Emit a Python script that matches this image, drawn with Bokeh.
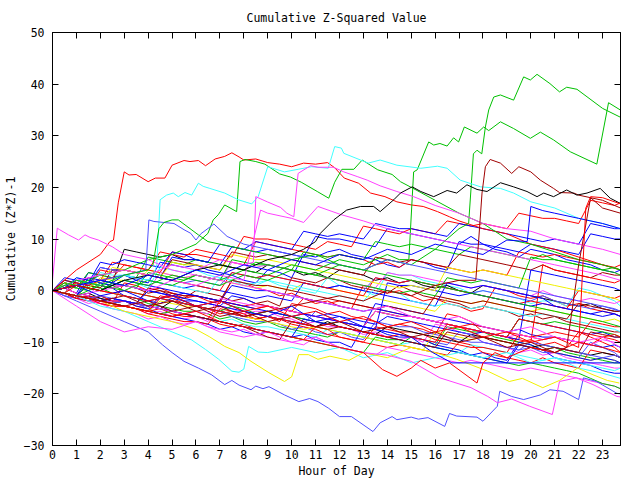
from bokeh.plotting import figure
from bokeh.models import LinearAxis, FixedTicker, Range1d
from bokeh.embed import file_html
from bokeh.resources import INLINE

TITLE = "Cumulative Z-Squared Value"
X_LABEL = "Hour of Day"
Y_LABEL = "Cumulative (Z*Z)-1"
X_TICKS = list(range(0, 24))
Y_TICKS = [-30, -20, -10, 0, 10, 20, 30, 40, 50]

# half-hourly sample times shared by the bulk of the series (0, 0.5, ... 23.5, 23.75)
HALF_HOURS = [h / 2 for h in range(48)] + [23.75]

# ---- bulk series (value at each half hour) ----
MASS_COLORS = [
    "red", "blue", "red", "green", "magenta", "cyan", "darkred", "blue", "black", "yellow",
    "lightblue", "red", "blue", "green", "red", "magenta", "blue", "cyan", "darkred", "blue",
    "red", "green", "lightblue", "yellow", "red", "blue", "magenta", "red", "black", "blue",
    "green", "cyan", "darkred", "red", "blue", "magenta", "lightblue", "red", "blue", "darkred",
    "yellow", "green", "blue", "red",
]
MASS_VALUES = [
    [0, -0.5, -1.5, -1, -2, -2.5, 1.5, 1, 0, 0.5, -0.5, -1.5, -1, -2, -2.5, 2, 1.5, 0.5,
     0, -1, -0.5, -1.5, -2.5, -2, -3, -3.5, 1, 0.5, -0.5, 0, -1, -2, -1.5, -2.5, -3, -4,
     -3.5, 0.5, 0, -1, -1.5, -1, -2, -3, -2.5, -3.5, -4, -4.5, -5],
    [0, 0.5, -0.5, 3.5, 3, 2.5, 3, 2, 1.5, 5.5, 5, 4.5, 5, 4, 3.5, 3, 2, 1.5,
     4, 3.5, 2.5, 7, 6.5, 7.5, 8, 7, 6.5, 6, 5, 4.5, 6, 5.5, 4.5, 4, 9.5, 9,
     9, 8, 7.5, 6.5, 8, 7.5, 7, 6, 5.5, 5, 4, 3.5, 4],
    [0, 0.5, -0.5, -1, -1.5, -2.5, -2, -3, -3.5, -1, -1.5, -2.5, -3, -3.5, -4.5, -4, -5, -5.5,
     -5, -6, -2.5, -3, -3.5, -4.5, -4, -5, -5.5, -6, -7, -6.5, -7, -7.5, -8.5, -4.5, -5, -6,
     -8, -8.5, -9, -10, -9.5, -10.5, -10, -11, -8, -9, -10, -11, -12],
    [0, -0.5, -1, 1, 0.5, -0.5, -1, -1.5, -2.5, -3, -3.5, -4, -4, -4.5, -5.5, -5, -6, -6.5,
     -6, -7, -7.5, -8, -8.5, -9, -8, -8.5, -9, -9.5, -10, -10.5, -9, -9.5, -10.5, -7, -7.5, -8,
     -8, -9, -9.5, -10, -10.5, -11.5, -11, -12, -12.5, -13, -13.5, -14, -14],
    [0, -1, -1.5, -2.5, -2, -3, -3, -3.5, -4.5, -4, -5, -5.5, -5, -6, -3, -3.5, -4.5, -4,
     -4, -5, -5.5, -6.5, -6, -7, -7, -7.5, -8.5, -8, -9, -9.5, -9, -10, -6.5, -7, -8, -8.5,
     -10, -10.5, -11, -12, -11.5, -12.5, -12, -13, -13.5, -14, -14.5, -15, -15],
    [0, 0.5, 2.5, 2, 1.5, 1, 2, 1.5, 0.5, 4.5, 4, 3.5, 4, 3, 2.5, 2, 1, 1.5,
     2, 1, 0.5, 0, -0.5, 2.5, 1, 0.5, 0, -1, 3.5, 3, 3, 2, 1.5, 1, 0.5, -0.5,
     0, -0.5, -1, -1.5, -2.5, -2, -2, -3, 0.5, 0, -1, -2, -3],
    [0, -0.5, 2, 1.5, 1, 0.5, 1, 0.5, -0.5, 0, -1, -1.5, 0, -0.5, -1, -2, -1.5, -2.5,
     -2, -3, 2.5, 2, 1.5, 2.5, 2, 1, 0.5, 0, -0.5, 1, 0, -1, -1.5, -2, -2.5, -3.5,
     -3, -3.5, -4, -5, -4.5, -5.5, -5, -6, -6.5, -7, -7.5, -8, -8],
    [0, -0.5, -1.5, -1, -2, -2.5, -2, -3, -3.5, -4.5, -5, -5.5, -6, -6.5, -7.5, -7, -8, -8.5,
     -8, -8.5, -9, -8.5, -9.5, -10, -10, -11, -7, -7.5, -8.5, -9, -9, -9.5, -10.5, -11, -11.5, -12.5,
     -12, -13, -13.5, -10, -10.5, -11.5, -13, -13.5, -14, -14.5, -15.5, -16, -16],
    [0, 0.5, 1, 0.5, 2, 1.5, 8, 7.5, 7, 6.5, 7, 6, 6, 5.5, 5, 4.5, 4, 3.5,
     5, 4.5, 4, 3, 3.5, 2.5, 4, 3.5, 3, 2, 2.5, 1.5, 2, 1, 0.5, 1, 0, -0.5,
     1, 0.5, 0, -0.5, -1, -1.5, -2, -2.5, -3, -2.5, -3.5, -4, -4],
    [0, 1.5, 1, 0.5, 2.5, 2, 2, 1.5, 4, 3.5, 3, 2.5, 3, 2.5, 2, 1.5, 1, 0.5,
     1, 0.5, 0, 1.5, 1, 0.5, 0, -0.5, -1, -1.5, -2, -2.5, -3, -3.5, -4, -1.5, -2, -2.5,
     -2, -2.5, -3, -3.5, -4, -3.5, -4, -4.5, -5, -5.5, -6, -5.5, -6],
    [0, -1, -1.5, -2, -1.5, -2.5, -2, -2.5, -3.5, -3, -4, -2, -3, -3.5, -4, -5, -5.5, -6,
     -6, -6.5, -7.5, -7, -8, -8.5, -8, -9, -9.5, -6, -6.5, -7, -7, -8, -8.5, -9, -9.5, -10,
     -10, -10.5, -11, -11.5, -11, -12, -12, -12.5, -13, -10, -11, -12, -13],
    [0, 0.5, 1, 2.5, 2, 5.5, 5, 4.5, 4, 3.5, 7.5, 7, 7, 6.5, 6, 5.5, 5, 9.5,
     9, 8.5, 8, 7.5, 7, 6.5, 7, 6.5, 6, 5, 5.5, 4.5, 6, 5.5, 5, 4.5, 4, 3.5,
     4, 3.5, 3, 7.5, 7, 6.5, 7, 6.5, 6, 5.5, 5, 4.5, 5],
    [0, 2, 1.5, 1, 4.5, 4, 4, 3.5, 3, 2.5, 6.5, 6, 6, 5.5, 5, 8.5, 8, 7.5,
     8, 7.5, 7, 6.5, 10.5, 10, 10, 9.5, 9, 8.5, 12, 11.5, 11, 10.5, 10, 9.5, 9, 10.5,
     9, 8.5, 8, 7.5, 9, 8.5, 8, 7.5, 7, 11, 10.5, 10, 10],
    [0, 1, 0.5, 3.5, 3, 2.5, 3, 2.5, 6.5, 6, 5.5, 5, 6, 5.5, 5, 4.5, 4, 5.5,
     5, 4.5, 4, 7.5, 7, 6.5, 7, 6.5, 6, 9.5, 9, 8.5, 9, 8.5, 8, 7.5, 7, 8.5,
     8, 7.5, 7, 6.5, 6, 7, 6, 5.5, 5, 4.5, 4, 4.5, 4],
    [0, -0.5, -1.5, -1, -2, -2.5, -3, -3.5, -4, -3.5, -4.5, -5, -5, -5.5, -6.5, -7, -6.5, -7.5,
     -8, -8.5, -9, -9.5, -7, -7.5, -9, -9.5, -10, -10.5, -11, -10.5, -11, -11.5, -12, -12.5, -10, -10.5,
     -12, -12.5, -13, -13.5, -14, -13, -14, -14.5, -15, -11.5, -12, -12.5, -13],
    [0, 0.5, -0.5, -1, 1.5, 1, 1, 0.5, 0, 3.5, 3, 2.5, 3, 2.5, 2, 5.5, 5, 4.5,
     5, 4.5, 4, 3.5, 3, 2.5, 2, 1.5, 1, 0.5, 3.5, 3, 3, 2.5, 2, 1.5, 1, 0.5,
     1, 0.5, 0, -0.5, -1, 0, -1, -1.5, -2, -1.5, -2, -2.5, -2],
    [0, -0.5, -1, 1.5, 1, 0.5, -1, -1.5, -2, -2.5, -1.5, -2, -2, -2.5, -3, -3.5, -4, -4.5,
     -4, -4.5, -5, -5.5, -6, -6.5, -6, -6.5, -7, -2.5, -3, -3.5, -4, -4.5, -5, -5.5, -6, -6.5,
     -7, -7.5, -8, -7.5, -8.5, -9, -9, -9.5, -10, -10.5, -11, -10.5, -11],
    [0, -0.5, -1, -1.5, -1, -2, -2, -2.5, -3, -3.5, -4, -4.5, -5, -5.5, -6, -5.5, -6.5, -7,
     -7, -7.5, -8, -8.5, -9, -7.5, -8, -8.5, -9, -9.5, -10, -10.5, -10, -10.5, -11, -11.5, -12, -10.5,
     -11, -11.5, -12, -12.5, -13, -13.5, -13, -13.5, -14, -14.5, -15, -15.5, -15],
    [0, 2, 1.5, 1, 0.5, 4, 4, 3.5, 3, 2.5, 6, 5.5, 5, 4.5, 4, 7.5, 7, 6.5,
     7, 6.5, 6, 5.5, 5, 4.5, 4, 3.5, 3, 6.5, 6, 5.5, 6, 5.5, 5, 4.5, 7, 6.5,
     6, 5.5, 5, 4.5, 4, 5, 4, 3.5, 3, 2.5, 3.5, 3, 3],
    [0, 1.5, 1, 0.5, 0, 1.5, 1, 0.5, 0, -0.5, -1, -1.5, -2, -2.5, -3, -1, -1.5, -2.5,
     -3, -3.5, -4, -4.5, -5, -4.5, -5, -5.5, -6, -6.5, -5, -5.5, -6, -6.5, -7, -7.5, -8, -8.5,
     -8, -8.5, -9, -5.5, -6, -6.5, -7, -7.5, -8, -8.5, -8, -9, -9],
    [0, -0.5, -1.5, -2, -2.5, -3, -3, -3.5, -4.5, -5, -5.5, -6, -6, -6.5, -3.5, -4, -4.5, -5.5,
     -5, -5.5, -6.5, -7, -7.5, -8.5, -9, -9.5, -10, -7, -7.5, -8, -8, -8.5, -9.5, -10, -10.5, -11,
     -11, -11.5, -12, -8.5, -9, -9.5, -9, -9.5, -10, -10.5, -9, -9.5, -10],
    [0, 1, 0.5, 0, 1.5, 1, 0, -0.5, -1, -1.5, -2, -2.5, -3, -3.5, -4, -3, -3.5, -4.5,
     -4, -4.5, -5, -5.5, -6, -6.5, -6, -6.5, -7, -4, -4.5, -5, -5, -5.5, -6, -6.5, -7, -7.5,
     -8, -8.5, -9, -5.5, -6, -6.5, -6, -6.5, -7, -7.5, -8, -8.5, -9],
    [0, 0.5, 2, 1.5, 4.5, 4, 4, 3.5, 3, 2.5, 2, 1.5, 2, 1.5, 1, 3.5, 3, 2.5,
     3, 2.5, 2, 1.5, 1, 0.5, 1, 0.5, 0, 2.5, 2, 1.5, 2, 1.5, 1, 0.5, 0, -0.5,
     0, -0.5, -1, -1.5, -2, -1, -2, -2.5, -3, -3.5, -3, -3.5, -4],
    [0, -0.5, -1, -1.5, -2, -2.5, -3, -3.5, -4, -2, -2.5, -3, -3, -3.5, -4, -4.5, -5, -5.5,
     -6, -6.5, -7, -7.5, -7, -7.5, -8, -8.5, -9, -9.5, -10, -10.5, -11, -11.5, -8, -8.5, -9, -9.5,
     -9, -9.5, -10, -10.5, -11, -11.5, -12, -12.5, -13, -13.5, -13, -13.5, -14],
    [0, -0.5, 1, 0.5, 0, -0.5, 0, -0.5, -1, -1.5, -0.5, -1, -1, -1.5, -2, -2.5, -3, -2.5,
     -3, -3.5, -4, -1.5, -2, -2.5, -2, -2.5, -3, -3.5, -4, -4.5, -5, -5.5, -6, -6.5, -7, -7.5,
     -8, -8.5, -9, -9.5, -10, 5, 4, 3.5, 3, 2.5, 2, 1.5, 2],
    [0, -0.5, -1, 2.5, 2, 1.5, 3, 2.5, 2, 1.5, 1, 0.5, 1, 0.5, 0, -0.5, -1, -1.5,
     -1, -1.5, -2, 1.5, 1, 0.5, 1, 0.5, 0, -0.5, -1, -1.5, -2, -2.5, -3, 1.5, 1, 0.5,
     1, 0.5, 0, -0.5, -1, -1.5, -3, -3.5, -4, -4.5, -4, -4.5, -5],
    [0, -0.5, -1, -2, -2.5, -3.5, -4, -4.5, -5.5, -5, -6, -6.5, -6, -7, -7.5, -8, -7.5, -8.5,
     -9, -9.5, -10, -10.5, -9, -10, -11, -11.5, -12, -12.5, -11, -11.5, -12, -12.5, -13, -13.5, -14, -13.5,
     -14, -14.5, -15, -15.5, -15, -15.5, -16, -16.5, -17, -17.5, -18, -18.5, -19],
    [0, 1.5, 1, 0.5, 4, 3.5, 4, 3.5, 3, 2.5, 2, 1.5, 1, 0.5, 0, 3.5, 3, 2.5,
     3, 2.5, 2, 1.5, 1, 0.5, 0, -0.5, -1, 2.5, 2, 1.5, 2, 1.5, 1, 0.5, 0, -0.5,
     -1, -1.5, -2, -2.5, -2, -2.5, -3, -3.5, 0, -0.5, -1, -1.5, -1],
    [0, -0.5, -1, -0.5, -1.5, -2, -2, -2.5, -3, -3.5, -2, -2.5, -3, -3.5, -4, -4.5, -5, -4.5,
     -5, -5.5, -6, -6.5, -7, -6, -7, -7.5, -8, -8.5, -7, -7.5, -8, -8.5, -9, -9.5, -10, -8.5,
     -9, -9.5, -10, -10.5, -11, -10.5, -11, -11.5, -12, -12.5, -12, -12.5, -13],
    [0, 0.5, 2.5, 2, 1.5, 1, 2, 1.5, 1, 0.5, 0, -0.5, -1, -1.5, -2, 1, 0.5, 0,
     0, -0.5, -1, -1.5, -2, -2.5, -3, -3.5, -4, -3.5, -4, -4.5, -5, -5.5, -6, -6.5, -7, -7.5,
     -8, -8.5, -9, -9.5, 4, 3.5, 3, 2.5, 2, 1.5, 1, 0.5, 0],
    [0, -0.5, -1, -1.5, -2, -2.5, -3, -3.5, -4, -4.5, -4, -4.5, -5, -5.5, -6, -6.5, -7, -7.5,
     -8, -8.5, -9, -9.5, -10, -10.5, -11, -11.5, -12, -9, -9.5, -9.5, -10, -10.5, -11, -11.5, -12, -12.5,
     -13, -13.5, -14, -14.5, -14, -14.5, -15, -15.5, -16, -17, -18, -18.5, -19],
    [0, 0.5, 1, 0.5, 3.5, 3, 3, 2.5, 2, 1.5, 1, 0.5, 0, -0.5, 2.5, 2, 1.5, 1,
     2, 1.5, 1, 0.5, 0, -0.5, -1, -1.5, -2, 0.5, 0, -0.5, -2, -2.5, -3, -2.5, -3, -3.5,
     -3, -3.5, -4, -4.5, -5, -4.5, -5, -5.5, -6, -6.5, -7, -7.5, -8],
    [0, -0.5, -1, -1.5, -1, -2, -2, -2.5, 0.5, 0, -0.5, -1, -1, -1.5, -2, 2, 1.5, 1,
     1, 0.5, 0, -0.5, -1, -1.5, -2, -2.5, -3, -3.5, -3, -3.5, -4, -4.5, -1, -1.5, -2, -2.5,
     -2, -2.5, -3, -3.5, -4, -4.5, -5, -5.5, -2.5, -3, -3.5, -4, -4],
    [0, -0.5, -1, -1.5, -1, -2, -2, -2.5, -3, -3.5, -4, -4.5, -5, -5.5, -2, -2.5, -3, -3.5,
     -3, -3.5, -4, -4.5, -5, -5.5, -6, -6.5, -7, -4, -4.5, -5, -5, -5.5, -6, -6.5, -7, -6.5,
     -7, -7.5, -8, -8.5, -9, -8.5, -8, -8.5, -9, -6, -6.5, -7, -7],
    [0, -0.5, -1, -1.5, -2, -1.5, -2, -2.5, -3, -3.5, -4, -4.5, -5, -5.5, -6, -6.5, -7, -7.5,
     -8, -8.5, -9, -5.5, -6, -6.5, -7, -7.5, -8, -8.5, -9, -9.5, -10, -10.5, -11, -11.5, -12, -12.5,
     -13, -13.5, -14, -10.5, -11, -11.5, -12, -12.5, -13, -13.5, -13, -13.5, -14],
    [0, -0.5, -1, -1.5, -2.5, -2, -2, -2.5, -3, -3.5, -4, -4.5, -4, -4.5, -1.5, -2, -2.5, -3,
     -3, -3.5, -4, -4.5, -5, -5.5, -6, -6.5, -7, -4, -4.5, -5, -5, -5.5, -6, -6.5, -7, -7.5,
     -8, -8.5, -9, -8.5, -9, -9.5, -9, -9.5, -10, -10.5, -9.5, -10, -10],
    [0, -0.5, -1, -1.5, -1, -1.5, -2, -2.5, -3, -1.5, -2, -2.5, -3, -3.5, -4, -4.5, -5, -4.5,
     -5, -5.5, -6, -6.5, -4, -5, -6, -6.5, -7, -7.5, -8, -8.5, -9, -9.5, -10, -10.5, -8, -8.5,
     -10, -10.5, -11, -11.5, -10, -10.5, -11, -11.5, -12, -12.5, -13, -12.5, -13],
    [0, 0.5, 1.5, 1, 2, 2.5, 5, 4.5, 4, 7.5, 7, 6.5, 8, 7.5, 7, 6.5, 10.5, 10,
     10, 9.5, 9, 8.5, 8, 9.5, 9, 8.5, 12.5, 12, 11.5, 11, 12, 11.5, 11, 13.5, 13, 12.5,
     13, 12.5, 12, 15, 14.5, 14, 14, 13.5, 13, 17.5, 17, 16.5, 17],
    [0, -0.5, -1, -1.5, -2, -1.5, -2, -2.5, 0, -0.5, -1, -0.5, -1, -1.5, -2, -2.5, -3, -3.5,
     -4, -4.5, -5, -4.5, -5, -5.5, -6, -6.5, -7, -7.5, 1.5, 1, 1, 0.5, 0, -0.5, -1, -0.5,
     -1, -1.5, -2, -2.5, -3, -2.5, -3, -3.5, -4, -4.5, -5, -4.5, -5],
    [0, -0.5, -1, -1.5, -2, -2.5, -3, -3.5, -4, -4.5, -5, -4.5, -5, -5.5, -6, -6.5, -7, -8,
     -9, -9.5, -6, -6.5, -7, -7.5, -7, -7.5, -8, -8.5, -9, -9.5, -10, -10.5, -11, -8, -8.5, -9,
     -9, -9.5, -10, -10.5, -11, -11.5, -11, -11.5, -12, -8, -8.5, -9, -9],
    [0, 1.5, 1, 0.5, 2, 4.5, 4, 3.5, 3, 2.5, 5.5, 5, 5, 4.5, 4, 7, 6.5, 6,
     6, 5.5, 5, 4.5, 4, 3.5, 3, 2.5, 2, 1.5, 1, 0.5, 1, 0.5, 0, 4.5, 4, 3.5,
     4, 3.5, 3, 2.5, 2, 1.5, 1, 0.5, 0, -0.5, -1, -1.5, -2],
    [0, 1.5, 1, 0.5, 0, 1.5, 1, 0.5, 3.5, 3, 2.5, 2, 3, 2.5, 2, 6, 5.5, 5,
     5, 4.5, 4, 3.5, 3, 2.5, 2, 1.5, 1, 0.5, 0, -0.5, 0, -0.5, -1, 2.5, 2, 1.5,
     2, 1.5, 1, 0.5, 6.5, 6, 6, 5.5, 5, 4.5, 4, 3.5, 3],
    [0, 2.5, 2, 1.5, 5.5, 5, 6, 5.5, 5, 4.5, 7.5, 7, 6, 5.5, 9, 8.5, 8, 9.5,
     9, 8.5, 8, 11.5, 11, 10.5, 11, 10.5, 10, 13, 12.5, 12, 12, 11.5, 11, 10.5, 13, 12.5,
     12, 11.5, 11, 10.5, 10, 9.5, 10, 9.5, 9, 13, 12.5, 12, 12],
    [0, -0.5, -1, -1.5, -2.5, -3, -3, -3.5, -4, -1.5, -2, -2.5, -3, -3.5, -4, -4.5, -5, -4.5,
     -5, -5.5, -6, -6.5, -7, -6.5, -7, -7.5, -8, -8.5, -9, -8.5, -9, -9.5, -10, -6.5, -7, -7.5,
     -8, -8.5, -9, -5.5, -6, -6.5, -7, -7.5, -8, -8.5, -9, -8.5, -9],
]

# ---- distinct series that stand out from the bundle ----
RED_TOP_X = [0, 1, 2, 2.4, 2.55, 2.75, 3.0, 3.2, 3.5, 4.0, 4.3, 4.7, 5.0, 5.5, 5.75, 6.1, 6.4, 6.8, 7.2, 7.5,
             7.8, 8.0, 8.5, 9, 9.5, 10, 10.5, 11, 11.5, 11.8, 12.08, 12.2, 12.8, 13.3, 13.9, 14.4, 15, 15.5,
             16.1, 16.6, 17, 18, 19, 20, 21, 22, 23, 23.75]
RED_TOP_Y = [0, 4, 7, 9.5, 9.8, 17, 23, 22.4, 22.5, 21.1, 21.8, 21.8, 24.3, 25.2, 25, 25.2, 24.2, 25.5, 26, 26.7,
             25.9, 25.3, 25.5, 24.8, 24.5, 24, 24.7, 24.5, 24.8, 23.8, 22.4, 21.8, 20.8, 18.9, 18.2, 17.2, 16.6, 16.3,
             15.3, 14.3, 13.5, 12, 11, 9, 8, 6.5, 5, 4]

GREEN_MID_X = [0, 1, 2, 3, 4, 5, 6, 6.5, 6.72, 6.93, 7.2, 7.7, 7.84, 8.05, 8.5, 8.88, 9.5, 9.95, 10.4, 11.07,
               11.55, 11.8, 12.1, 12.6, 12.95, 13.6, 14.2, 14.55, 15, 16, 17, 18, 19, 20, 21, 22, 23, 23.75]
GREEN_MID_Y = [0, 1, 3, 4, 6, 7, 9, 11.1, 13.7, 14.7, 16.6, 15.3, 25, 25.4, 25, 24.5, 22.6, 22, 21, 19.2,
               17.9, 21, 23.5, 23.5, 25.3, 23.4, 22.5, 21.1, 20, 17.5, 15, 13, 10, 9, 7.5, 6, 5, 4]

GREEN_LADDER_X = [0, 1, 2, 3, 4, 5, 6, 7, 8, 9, 10, 11, 12, 13, 14, 14.5, 14.9, 15.1, 15.25, 15.73, 15.94, 16.2,
                  16.5, 16.77, 16.98, 17.22, 17.75, 18.03, 18.24, 18.73, 19.28, 19.98, 20.4, 20.95, 21.65, 22.76,
                  23.25, 23.74]
GREEN_LADDER_Y = [0, -1, 1, 0, 2, 1, 3, 2, 4, 3, 5, 4, 6, 5, 7, 6, 6, 23, 23.4, 28.8, 28.2, 28.5,
                  28, 29.6, 28.8, 31.7, 30.5, 31.7, 31, 32.7, 31.4, 29.5, 30.7, 29.2, 26.9, 24.5,
                  36.4, 35]

GREEN_TOP_X = [0, 1, 2, 3, 4, 5, 6, 7, 8, 9, 10, 11, 12, 13, 14, 15, 16, 17, 17.4, 17.6, 17.75, 17.95, 18.1,
               18.24, 18.45, 18.73, 19.28, 19.7, 19.98, 20.26, 20.8, 21.2, 21.5, 21.93, 23.0, 23.74]
GREEN_TOP_Y = [0, 1, 0, 2, 1, 3, 2, 1, 3, 2, 4, 3, 5, 4, 6, 5, 8, 12, 13, 26.5, 27.2, 26.5, 31.7,
               35, 37.5, 37.9, 36.9, 41.4, 40.8, 41.9, 40.1, 38.5, 39.4, 39, 35.3, 33.6]

CYAN_TOP_X = [0, 1, 2, 3, 4, 4.3, 4.36, 4.5, 4.77, 5.05, 5.26, 5.54, 5.82, 6.1, 6.3, 6.58, 7.2, 7.77, 8.33, 8.6,
              9.0, 9.7, 10.27, 10.83, 11.53, 11.8, 12.08, 12.18, 12.88, 13.2, 13.7, 14.4, 15.4, 16.1, 16.5,
              17.05, 17.9, 18.73, 19.28, 20, 21, 22, 23, 23.75]
CYAN_TOP_Y = [0, 2, 1, 3, 2, 4, 5, 17.6, 18.5, 18.9, 18.2, 19, 18.5, 20.8, 20.2, 19.8, 18.9, 17.6, 16.8, 18.2,
              24, 23, 23.5, 24, 23.7, 27.9, 27.6, 26.6, 25.3, 24.7, 25.3, 24.3, 23.7, 24.1, 23.7,
              21.4, 20.1, 19.8, 18.9, 17.2, 16, 14, 13, 12]

MAGENTA_HIGH_X = [0, 1, 2, 3, 4, 5, 6, 7, 8, 8.4, 8.5, 8.98, 9.54, 9.8, 10.09, 10.27, 10.79, 11.1, 11.75, 12.18,
                  12.74, 13.16, 13.7, 14.4, 15.1, 16, 17, 18, 19, 20, 21, 22, 23, 23.75]
MAGENTA_HIGH_Y = [0, 2, 3, 4, 3, 5, 4, 6, 5, 5.5, 18.2, 17.2, 16.1, 15, 14.3, 22.7, 24.2, 23.9, 23.9, 23,
                  22.1, 21.4, 20.3, 19.2, 18.2, 16.5, 15, 13, 12, 11.5, 10, 9, 8, 7]

MAGENTA_MID_X = [0, 1, 2, 3, 4, 5, 6, 7, 8, 8.7, 9, 10, 10.5, 11.1, 11.65, 12.08, 13, 14,
                 15, 16, 17, 18, 19, 20, 21, 22, 23, 23.75]
MAGENTA_MID_Y = [0, -1, 0, 1, 0, 2, 1, 3, 2, 15.6, 15, 14, 13.2, 16.3, 15.4, 14.7, 13.5, 12,
                 11, 10, 9, 8, 7, 6, 5, 4, 3, 2]

MAGENTA_EARLY_X = [0, 0.2, 0.3, 0.67, 1.09, 1.36, 1.57, 1.92, 2.5, 3, 4, 5, 6, 7, 8, 9, 10, 11, 12, 13, 14,
                   15, 16, 17, 18, 19, 20, 21, 22, 23, 23.75]
MAGENTA_EARLY_Y = [2, 12.1, 11.8, 10.8, 9.8, 10.8, 10.3, 9.8, 8.5, 7, 6, 4, 3, 2, 1, 0, -1, -2, -3, -4, -3,
                   -5, -6, -5, -7, -8, -7, -9, -10, -9, -11]

LIGHTBLUE_HIGH_X = [0, 1, 2, 3, 3.9, 4.03, 4.24, 4.66, 5.08, 5.5, 5.78, 6.0, 6.2, 6.75, 7.3, 8, 9, 10, 11, 12,
                    13, 14, 15, 16, 17, 18, 19, 20, 21, 22, 23, 23.75]
LIGHTBLUE_HIGH_Y = [0, 1, 2, 3, 4, 13.7, 13.4, 13.2, 13, 11.8, 11.1, 9.8, 11, 12.9, 10.5, 9, 8, 7, 6, 5,
                    4, 6, 5, 4, 3, 2, 1, 0, -1, -2, -3, -4]

GREEN_EARLY_X = [0, 1, 2, 3, 4, 4.2, 4.45, 4.66, 5.0, 5.26, 6.1, 6.5, 7, 8, 9, 10, 11, 12, 13, 14, 15, 16,
                 17, 18, 19, 20, 21, 22, 23, 23.75]
GREEN_EARLY_Y = [0, 2, 1, 3, 4, 5, 12, 13.2, 13.7, 13.7, 10.8, 9.5, 9, 8, 7, 6, 7, 5, 4, 3, 2, 1,
                 0, -1, -2, -3, -4, -5, -6, -7]

DARKRED_HIGH_X = [0, 1, 2, 3, 4, 5, 6, 7, 8, 9, 10, 11, 12, 13, 14, 15, 16, 17, 17.7, 17.96, 18.1, 18.3, 18.73,
                  19.2, 19.5, 20, 20.4, 20.95, 21.2, 21.8, 22, 23, 23.75]
DARKRED_HIGH_Y = [0, -1, -2, -1, -3, -2, -4, -3, -5, -4, -3, -2, -1, -2, 0, -1, 1, 2, 2, 18.9, 24, 25.4, 24.7,
                  22.7, 24, 23, 21.4, 19.8, 19, 18.9, 18.5, 17.5, 16]

BLACK_HIGH_X = [0, 1, 2, 3, 4, 5, 6, 7, 8, 9, 10, 10.5, 11.0, 11.2, 11.76, 12.3, 12.88, 13.43, 13.7, 14.27,
                14.55, 15.04, 15.4, 15.94, 16.5, 16.9, 17.33, 17.75, 18.17, 18.73, 19.28, 19.84, 20.26, 20.54,
                20.95, 21.5, 21.93, 22.35, 22.9, 23.32, 23.74]
BLACK_HIGH_Y = [0, 1, 0, 2, 3, 2, 4, 5, 4, 6, 7, 8, 9.5, 11.1, 13.7, 15.6, 16.3, 16.3, 15.3, 17.6,
                18.9, 20.1, 19.2, 18.2, 19.4, 18.9, 20.5, 19.6, 19.2, 20.9, 20.1, 19.2, 18.2, 18.9,
                18.2, 19.5, 18.5, 18.9, 19.8, 17.9, 16.9]

LIGHTBLUE_LOW_X = [0, 1, 2, 3, 4, 4.6, 5.0, 5.5, 6.1, 6.65, 7.2, 7.5, 7.8, 8.3, 8.5, 8.8, 9.05, 9.7, 10.3, 10.75,
                   11.1, 11.55, 12.0, 12.5, 13.4, 13.7, 14.2, 14.4, 15, 15.3, 15.7, 16.4, 16.6, 16.9, 17.75,
                   18, 18.6, 18.7, 19.2, 19.7, 20.4, 20.8, 21.35, 22, 22.2, 22.75, 23.6, 23.75]
LIGHTBLUE_LOW_Y = [0, -2, -4, -6, -8, -10.5, -12, -13.7, -15, -16.3, -18.2, -17.4, -18.3, -19.2, -18.5, -19,
                   -18.6, -20.2, -21.5, -20.9, -21.5, -22.8, -24.4, -24.4, -27.3, -25.6, -24.4, -25, -24.5,
                   -24.9, -24.6, -26.3, -23.8, -24.3, -24.5, -25.3, -22.4, -19.5, -20.5, -21.1, -20.2, -19.2,
                   -19.5, -21.1, -16.9, -17.6, -19.9, -20]

CYAN_LOW_X = [0, 1, 2, 3, 4, 5, 5.8, 6.4, 6.95, 7.5, 7.8, 8.0, 8.2, 8.6, 9, 10, 11, 12, 13, 14, 15, 16, 17, 18,
              19, 20, 21, 22, 23, 23.75]
CYAN_LOW_Y = [0, -1, -3, -4, -6, -8, -9.5, -11.4, -13.3, -15.6, -15.8, -15.2, -10.8, -11.9, -12, -11, -12, -11,
              -13, -12, -14, -13, -12, -13, -12, -14, -13, -15, -16, -17]

YELLOW_LOW_X = [0, 1, 2, 3, 4, 5, 6, 6.55, 7.2, 7.8, 8.3, 9.05, 9.7, 10, 10.3, 10.7, 11.1, 11.6, 12.4, 13, 14,
                15, 16, 16.9, 18.2, 19.1, 19.65, 20.5, 21.2, 21.95, 22.6, 23.2, 23.7]
YELLOW_LOW_Y = [0, -1, -2, -4, -5, -6, -7.5, -8.9, -10.8, -12, -13.7, -15.9, -17.6, -16.7, -12.4, -12.4, -13.3,
                -12.7, -13.5, -12, -13, -11, -12, -13.3, -15.6, -17.6, -17, -18.8, -17.4, -15, -16.3, -17.4,
                -17.9]

MAGENTA_LOW_X = [0, 1, 2, 3, 4, 5, 6, 7, 8, 9, 10, 11, 12, 13, 14, 15, 16.2, 17.5, 18.2, 18.6, 19.2, 19.95,
                 20.9, 21.2, 21.9, 22.6, 23.6, 23.75]
MAGENTA_LOW_Y = [0, -3, -6, -8, -7, -7.5, -6, -8, -9, -8, -10, -9, -11, -12, -12.5, -13.7, -16.9, -18.8, -20.5,
                 -21.7, -21, -22.4, -24, -17.6, -16.9, -18.2, -20.5, -20.6]

BLUE_FLAT_X = [0, 1, 2, 3, 4, 5, 6, 7, 8, 9, 10, 11, 12, 13, 14, 15, 15.9, 16.7, 23.75]
BLUE_FLAT_Y = [0, 1, -1, 0, -2, -1, -3, -2, -4, -5, -3, -6, -5, -7, -8, -9, -12, -14, -14]

RED_LOW_X = [0, 1, 2, 3, 4, 5, 6, 7, 8, 9, 10, 11, 12, 13, 13.8, 14.4, 15, 15.4, 16, 16.6, 17.75, 18.0, 18.5,
             19, 20, 21, 22, 23, 23.75]
RED_LOW_Y = [0, -1, -2, -3, -4, -5, -4, -6, -7, -8, -9, -10, -11, -12, -15.3, -16.6, -15, -13.5, -15, -14,
             -17.9, -14, -12, -13, -11, -12, -10, -11, -12]

BLUE_JUMP_X = [0, 1, 2, 3, 4, 5, 6, 7, 8, 9, 10, 11, 12, 13, 14, 15, 16, 17, 18, 19, 19.85, 20, 20.5, 21, 22,
               23, 23.75]
BLUE_JUMP_Y = [0, 1, 2, 1, 3, 2, 4, 3, 5, 4, 6, 5, 7, 6, 8, 7, 9, 8, 7, 9.8, 9.5, 16.3, 15.5, 15, 14, 13, 12]

DARKRED_LATE_X = [0, 1, 2, 3, 4, 5, 6, 7, 8, 9, 10, 11, 12, 13, 14, 15, 16, 17, 18, 19, 20, 21, 21.5, 22,
                  22.5, 23, 23.75]
DARKRED_LATE_Y = [0, -1, -2, -3, -2, -4, -3, -5, -4, -6, -5, -7, -6, -8, -7, -9, -8, -10, -9, -11, -10, -12,
                  -11, 5, 18, 16, 15]

RED_LATE_X = [0, 1, 2, 3, 4, 5, 6, 7, 8, 9, 10, 11, 12, 13, 14, 15, 16, 17, 18, 19, 20, 21, 22, 22.3, 22.5,
              23, 23.75]
RED_LATE_Y = [0, 1, 0, -1, -2, -1, -3, -2, -4, -3, -5, -4, -6, -5, -7, -6, -8, -7, -9, -8, -10, -9, -11, 16,
              18.2, 18, 16.8]

SPECIAL = [
    (RED_TOP_X, RED_TOP_Y, "red"),
    (GREEN_MID_X, GREEN_MID_Y, "green"),
    (GREEN_LADDER_X, GREEN_LADDER_Y, "green"),
    (GREEN_TOP_X, GREEN_TOP_Y, "green"),
    (CYAN_TOP_X, CYAN_TOP_Y, "cyan"),
    (MAGENTA_HIGH_X, MAGENTA_HIGH_Y, "magenta"),
    (MAGENTA_MID_X, MAGENTA_MID_Y, "magenta"),
    (MAGENTA_EARLY_X, MAGENTA_EARLY_Y, "magenta"),
    (LIGHTBLUE_HIGH_X, LIGHTBLUE_HIGH_Y, "lightblue"),
    (GREEN_EARLY_X, GREEN_EARLY_Y, "green"),
    (DARKRED_HIGH_X, DARKRED_HIGH_Y, "darkred"),
    (BLACK_HIGH_X, BLACK_HIGH_Y, "black"),
    (LIGHTBLUE_LOW_X, LIGHTBLUE_LOW_Y, "lightblue"),
    (CYAN_LOW_X, CYAN_LOW_Y, "cyan"),
    (YELLOW_LOW_X, YELLOW_LOW_Y, "yellow"),
    (MAGENTA_LOW_X, MAGENTA_LOW_Y, "magenta"),
    (BLUE_FLAT_X, BLUE_FLAT_Y, "blue"),
    (RED_LOW_X, RED_LOW_Y, "red"),
    (BLUE_JUMP_X, BLUE_JUMP_Y, "blue"),
    (DARKRED_LATE_X, DARKRED_LATE_Y, "darkred"),
    (RED_LATE_X, RED_LATE_Y, "red"),
]

PALETTE = {
    "red": "#ff0000", "green": "#00c000", "blue": "#0000ff", "magenta": "#ff40ff",
    "cyan": "#40ffff", "darkred": "#a00000", "black": "#000000", "yellow": "#f0f000",
    "lightblue": "#5050ff",
}

FONT = "DejaVu Sans Mono"
FS = "11.5px"

p = figure(width=640, height=480, x_range=Range1d(0, 23.75), y_range=Range1d(-30, 50),
           output_backend="svg", toolbar_location=None,
           min_border_left=52, min_border_right=20, min_border_top=32, min_border_bottom=34)
p.background_fill_color = "white"
p.border_fill_color = "white"
p.outline_line_color = "black"
p.outline_line_width = 1
p.xgrid.visible = False
p.ygrid.visible = False

p.title.text = TITLE
p.title.align = "center"
p.title.text_font = FONT
p.title.text_font_size = FS
p.title.text_font_style = "normal"
p.title.text_color = "black"
p.title.standoff = 15

for i, vals in enumerate(MASS_VALUES):
    n = min(len(vals), len(HALF_HOURS))
    p.line(HALF_HOURS[:n], vals[:n], line_color=PALETTE[MASS_COLORS[i]], line_width=1)
for xs, ys, c in SPECIAL:
    p.line(xs, ys, line_color=PALETTE[c], line_width=1)


def style_axis(ax, ticks, show_labels):
    ax.ticker = FixedTicker(ticks=ticks)
    ax.major_tick_in = 6
    ax.major_tick_out = 0
    ax.minor_tick_line_color = None
    ax.axis_line_color = "black"
    ax.major_tick_line_color = "black"
    ax.major_label_text_font = FONT
    ax.major_label_text_font_size = FS
    ax.major_label_text_color = "black" if show_labels else None
    ax.axis_label_text_font = FONT
    ax.axis_label_text_font_size = FS
    ax.axis_label_text_font_style = "normal"
    ax.axis_label_text_color = "black"


style_axis(p.xaxis[0], X_TICKS, True)
style_axis(p.yaxis[0], Y_TICKS, True)
p.xaxis[0].axis_label = X_LABEL
p.yaxis[0].axis_label = Y_LABEL
p.xaxis[0].major_label_standoff = 4
p.xaxis[0].axis_label_standoff = 2
p.yaxis[0].major_label_standoff = 8
p.yaxis[0].axis_label_standoff = 3

top = LinearAxis()
style_axis(top, X_TICKS, False)
top.major_label_standoff = 0
p.add_layout(top, "above")
right = LinearAxis()
style_axis(right, Y_TICKS, False)
right.major_label_standoff = 0
p.add_layout(right, "right")

open("out.html", "w").write(file_html(p, INLINE))
